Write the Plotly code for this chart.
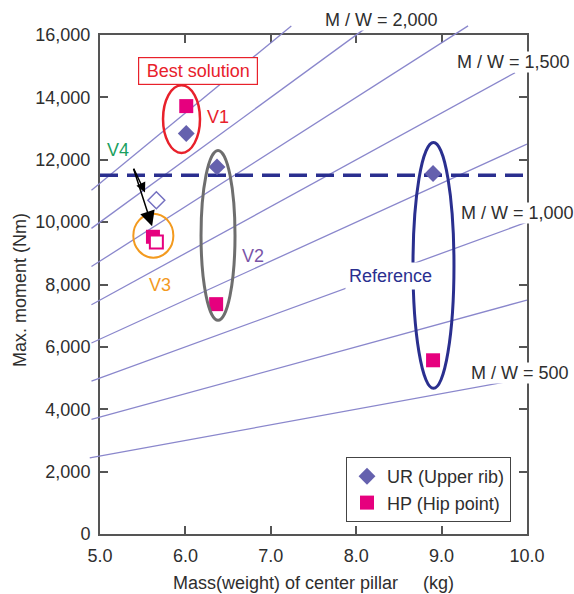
import plotly.graph_objects as go

# ---------------- data ----------------
mw_slopes = [500, 750, 1000, 1250, 1500, 1750, 2000, 2250]          # M/W ratio lines
mw_line_start = [4.88, 4.90, 4.90, 4.90, 4.90, 4.90, 4.90, 4.90]     # mass where each line starts
mw_line_end = [10.0, 10.0, 10.0, 10.0, 9.86, 9.31, 8.15, 7.24]       # mass where each line ends

ur_mass = [6.01, 6.37, 8.90]            # V1, V2, Reference
ur_moment = [12840, 11770, 11560]
hp_mass = [6.01, 6.36, 8.90, 5.62]      # V1, V2, Reference, V3
hp_moment = [13720, 7370, 5570, 9530]
v4_ur_mass = [5.66]
v4_ur_moment = [10700]
v4_hp_mass = [5.66]
v4_hp_moment = [9360]

target_moment = 11500
x_range = [5.0, 10.0]
y_range = [0, 16000]
x_ticks = [5, 6, 7, 8, 9, 10]
y_ticks = [0, 2000, 4000, 6000, 8000, 10000, 12000, 14000, 16000]

# ---------------- styling ----------------
FONT = "Liberation Sans, Arial, sans-serif"
TXT = "#2e2e2e"
LINE = "#8a87cc"
UR_C = "#6561ae"
HP_C = "#e6007e"
NAVY = "#2a2f8f"
RED = "#e8212b"
GRAY = "#6e6e6e"
ORANGE = "#f39a1e"
GREEN = "#1aa060"
PURPLE = "#7a55a8"

W, H = 574, 594
ml, mt = 88, 22
pw, ph = 439, 512
mr, mb = W - ml - pw, H - mt - ph
dx0 = (100 - 88) / pw
dy1 = (534 - 35) / ph
# overlay axes (full plot region) share the same scale as the main axes
x2_min = x_range[0] - dx0 / (1 - dx0) * (x_range[1] - x_range[0])
y2_max = y_range[1] + (1 - dy1) / dy1 * (y_range[1] - y_range[0])


def px_x(p):   # page pixel -> paper fraction (layout positions only)
    return (p - 88) / pw


def px_y(p):
    return (534 - p) / ph


fig = go.Figure()

# dummy trace on main axes
fig.add_trace(go.Scatter(x=[x_range[0]], y=[y_range[0]], mode="markers",
                         marker=dict(opacity=0), showlegend=False, hoverinfo="skip"))

for s, a, b in zip(mw_slopes, mw_line_start, mw_line_end):
    fig.add_trace(go.Scatter(x=[a, b], y=[s * a, s * b], mode="lines",
                             line=dict(color=LINE, width=1.3),
                             xaxis="x2", yaxis="y2", showlegend=False, hoverinfo="skip"))

fig.add_trace(go.Scatter(x=x_range, y=[target_moment, target_moment], mode="lines",
                         line=dict(color=NAVY, width=3.5, dash="18px,9px"),
                         xaxis="x2", yaxis="y2", showlegend=False, hoverinfo="skip"))

fig.add_trace(go.Scatter(x=ur_mass, y=ur_moment, mode="markers", name="UR (Upper rib)",
                         marker=dict(symbol="diamond", size=13, color=UR_C),
                         xaxis="x2", yaxis="y2"))
fig.add_trace(go.Scatter(x=hp_mass, y=hp_moment, mode="markers", name="HP (Hip point)",
                         marker=dict(symbol="square", size=14, color=HP_C),
                         xaxis="x2", yaxis="y2"))
fig.add_trace(go.Scatter(x=v4_ur_mass, y=v4_ur_moment, mode="markers",
                         marker=dict(symbol="diamond", size=13, color="white",
                                     line=dict(color="#7470c0", width=1.5)),
                         xaxis="x2", yaxis="y2", showlegend=False, hoverinfo="skip"))
fig.add_trace(go.Scatter(x=v4_hp_mass, y=v4_hp_moment, mode="markers",
                         marker=dict(symbol="square", size=13, color="white",
                                     line=dict(color=HP_C, width=2)),
                         xaxis="x2", yaxis="y2", showlegend=False, hoverinfo="skip"))

shapes = [
    dict(type="circle", xref="x2", yref="y2", x0=5.738, x1=6.171, y0=12220, y1=14390,
         line=dict(color=RED, width=2.5)),
    dict(type="circle", xref="x2", yref="y2", x0=6.183, x1=6.581, y0=6850, y1=12300,
         line=dict(color=GRAY, width=3)),
    dict(type="circle", xref="x2", yref="y2", x0=8.665, x1=9.145, y0=4670, y1=12550,
         line=dict(color=NAVY, width=3)),
    dict(type="circle", xref="x2", yref="y2", x0=5.390, x1=5.859, y0=8860, y1=10270,
         line=dict(color=ORANGE, width=2)),
]


def lab(text, x, y, color, bg=None, ref="x2", **kw):
    d = dict(text=text, x=x, y=y, showarrow=False, xanchor="center", yanchor="middle",
             font=dict(family=FONT, size=18, color=color))
    if ref == "paper":
        d.update(xref="paper", yref="paper")
    else:
        d.update(xref="x2", yref="y2")
    if bg:
        d.update(bgcolor=bg, borderpad=0)
    d.update(kw)
    return d


annotations = [
    lab("M / W = 2,000", px_x(381), px_y(20), TXT, bg="white", ref="paper"),
    lab("M / W = 1,500", 9.84, 15130, TXT, bg="white"),
    lab("M / W = 1,000", 9.89, 10290, TXT, bg="white"),
    lab("M / W = 500", 9.92, 5150, TXT, bg="white"),
    lab("Best solution", 6.143, 14840, RED, bg="white",
        bordercolor=RED, borderwidth=1.2, borderpad=3, width=112),
    lab("V1", 6.38, 13370, RED),
    lab("V4", 5.21, 12310, GREEN),
    lab("V3", 5.70, 7980, ORANGE),
    lab("V2", 6.79, 8900, PURPLE),
    lab("Reference", 8.40, 8270, NAVY, bg="white", borderpad=3),
    dict(x=5.61, y=9870, ax=5.387, ay=11760, axref="x2", ayref="y2", xref="x2", yref="y2",
         text="", showarrow=True, arrowhead=2, arrowsize=2, arrowwidth=1.5, arrowcolor="black"),
    dict(x=5.527, y=10950, ax=5.387, ay=11760, axref="x2", ayref="y2", xref="x2", yref="y2",
         text="", showarrow=True, arrowhead=2, arrowsize=1.3, arrowwidth=1.5, arrowcolor="black"),
    lab("Mass(weight) of center pillar\u00a0\u00a0\u00a0\u00a0 (kg)", px_x(313.5), px_y(583),
        TXT, ref="paper"),
    lab("Max. moment (Nm)", px_x(20), px_y(290), TXT, ref="paper", textangle=-90),
]

axis_common = dict(showline=True, linecolor="#555", linewidth=2, mirror="ticks",
                   ticks="inside", ticklen=8, tickwidth=1.5, tickcolor="#555",
                   showgrid=False, zeroline=False, automargin=False,
                   tickfont=dict(family=FONT, size=18, color=TXT))

fig.update_layout(
    width=W, height=H,
    margin=dict(l=ml, r=mr, t=mt, b=mb, pad=0, autoexpand=False),
    paper_bgcolor="white", plot_bgcolor="rgba(0,0,0,0)",
    font=dict(family=FONT, size=18, color=TXT),
    xaxis=dict(range=x_range, domain=[dx0, 1], anchor="y", tickvals=x_ticks,
               tickformat=".1f", ticklabelstandoff=4, **axis_common),
    yaxis=dict(range=y_range, domain=[0, dy1], anchor="x", tickvals=y_ticks,
               tickformat=",d", ticklabelstandoff=4, **axis_common),
    xaxis2=dict(range=[x2_min, x_range[1]], domain=[0, 1], anchor="y2", visible=False,
                automargin=False),
    yaxis2=dict(range=[y_range[0], y2_max], domain=[0, 1], anchor="x2", visible=False,
                automargin=False),
    shapes=shapes,
    annotations=annotations,
    legend=dict(x=px_x(346), y=px_y(457), xanchor="left", yanchor="top",
                bgcolor="white", bordercolor="#444", borderwidth=1,
                font=dict(family=FONT, size=18, color=TXT), tracegroupgap=0),
    showlegend=True,
)

fig.write_html(
    "out.html",
    config=dict(displayModeBar=False),
    post_script="document.body.style.margin='0';"
                "document.documentElement.style.overflow='hidden';"
                "document.body.style.overflow='hidden';",
)
